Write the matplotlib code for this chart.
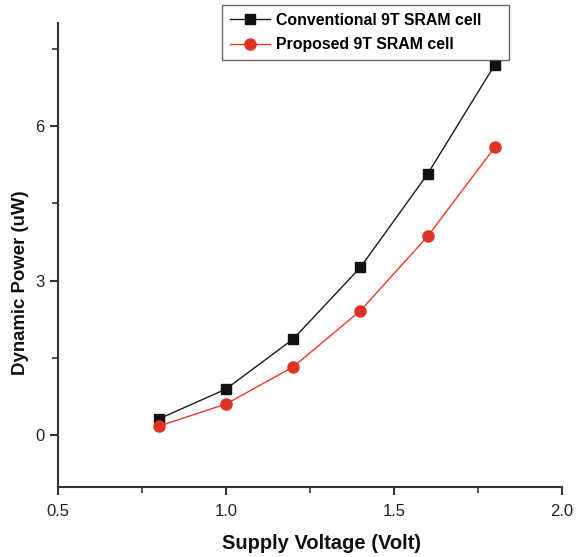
"""Dynamic power vs supply voltage for two 9T SRAM cells."""

import matplotlib

matplotlib.use("Agg")
from matplotlib import pyplot as plt
from matplotlib.ticker import MultipleLocator

# ---------------------------------------------------------------------------
# Data
# ---------------------------------------------------------------------------

supply_voltage = [0.8, 1.0, 1.2, 1.4, 1.6, 1.8]
conventional_power = [0.32, 0.90, 1.87, 3.26, 5.07, 7.19]
proposed_power = [0.18, 0.61, 1.33, 2.42, 3.86, 5.59]

series_labels = ["Conventional 9T SRAM cell", "Proposed 9T SRAM cell"]
x_ticks = [0.5, 1.0, 1.5, 2.0]
y_ticks = [0, 3, 6]

plt.rcParams["font.family"] = ["Liberation Sans", "DejaVu Sans"]

fig = plt.figure(figsize=(5.82, 5.57), dpi=100)
ax = fig.add_axes([58 / 582, 1 - 487 / 557, 504 / 582, 464 / 557])

ax.plot(
    supply_voltage,
    conventional_power,
    color="#1a1a1a",
    lw=1.0,
    marker="s",
    ms=7,
    mfc="#111111",
    mec="#111111",
    label=series_labels[0],
)
ax.plot(
    supply_voltage,
    proposed_power,
    color="#e8392a",
    lw=1.0,
    marker="o",
    ms=8,
    mfc="#e03224",
    mec="#e03224",
    label=series_labels[1],
)

ax.set_xlim(0.5, 2.0)
ax.set_ylim(-1, 8)
ax.set_xticks(x_ticks)
ax.set_xticklabels([f"{t:.1f}" for t in x_ticks])
ax.set_yticks(y_ticks)
ax.xaxis.set_minor_locator(MultipleLocator(0.25))
ax.yaxis.set_minor_locator(MultipleLocator(1.5))

for side in ["top", "right"]:
    ax.spines[side].set_visible(False)
for side in ["left", "bottom"]:
    ax.spines[side].set_linewidth(1.5)
    ax.spines[side].set_color("#333333")

ax.tick_params(which="major", direction="out", length=6, width=1.5,
               labelsize=12, colors="#333333", labelcolor="#222222")
ax.tick_params(axis="y", which="major", pad=3.5)
ax.tick_params(axis="x", which="major", pad=6)
ax.tick_params(which="minor", direction="out", length=4, width=1.2,
               colors="#333333")

ax.set_xlabel("Supply Voltage (Volt)", fontsize=14.5, fontweight="bold",
              color="#111111")
ax.xaxis.set_label_coords(0.522, -0.102)
ax.set_ylabel("Dynamic Power (uW)", fontsize=13.4, fontweight="bold",
              color="#111111")
ax.yaxis.set_label_coords(-0.058, 0.44)

leg = ax.legend(
    loc="upper left",
    bbox_to_anchor=(222 / 582, 1 - 57 / 557, 287 / 582, 52 / 557),
    bbox_transform=fig.transFigure,
    mode="expand",
    prop={"weight": "bold", "size": 11.4},
    frameon=True,
    fancybox=False,
    edgecolor="#444444",
    borderaxespad=0,
    borderpad=0.5,
    handlelength=2.5,
    handletextpad=0.4,
    labelspacing=0.6,
)
leg.get_frame().set_linewidth(1.0)

fig.savefig("out.png", dpi=100)
